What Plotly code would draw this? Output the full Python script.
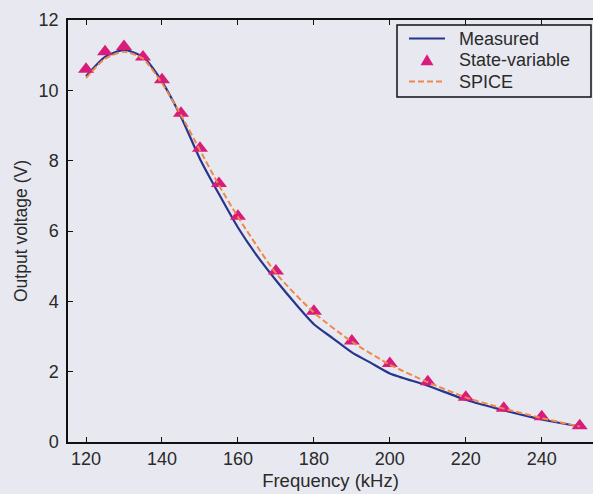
import plotly.graph_objects as go

# Frequency grid (kHz) and output voltages (V)
freq_meas = [120, 125, 130, 135, 140, 145, 150, 155, 160, 165, 170, 175, 180,
             185, 190, 195, 200, 210, 220, 230, 240, 250]
v_meas = [10.40, 10.95, 11.15, 10.95, 10.25, 9.25, 8.05, 7.05, 6.10, 5.30,
          4.60, 3.95, 3.35, 2.95, 2.55, 2.25, 1.95, 1.60, 1.20, 0.90, 0.64, 0.44]

freq_sv = [120, 125, 130, 135, 140, 145, 150, 155, 160, 170, 180, 190, 200,
           210, 220, 230, 240, 250]
v_state = [10.60, 11.10, 11.25, 10.95, 10.30, 9.35, 8.35, 7.35, 6.42, 4.86,
           3.72, 2.87, 2.23, 1.71, 1.27, 0.96, 0.72, 0.46]
v_spice = [10.35, 10.90, 11.10, 10.90, 10.20, 9.30, 8.30, 7.30, 6.40, 4.80,
           3.68, 2.85, 2.20, 1.70, 1.27, 0.95, 0.68, 0.44]

x_ticks = [120, 140, 160, 180, 200, 220, 240]
y_ticks = [0, 2, 4, 6, 8, 10, 12]
legend_names = ["Measured", "State-variable", "SPICE"]

BG = "#e8e8f0"
INK = "#2a2a2a"
C_MEAS = "#27358c"
C_SV = "#d91c7c"
C_SPICE = "#f0884a"
DASH = "6px,3px"
FONT = "Liberation Sans, Arial, sans-serif"

W, H = 593, 494
ML, MR, MT, MB = 68, 0, 20, 52
PW, PH = W - ML - MR, H - MT - MB


def px(x):
    """Horizontal page pixel -> paper fraction."""
    return (x - ML) / PW


def py(y):
    """Vertical page pixel (from top) -> paper fraction."""
    return (H - MB - y) / PH


fig = go.Figure()
fig.add_trace(go.Scatter(
    x=freq_meas, y=v_meas, name=legend_names[0], mode="lines",
    line=dict(color=C_MEAS, width=2.2, shape="spline", smoothing=0.6),
))
fig.add_trace(go.Scatter(
    x=freq_sv, y=v_state, name=legend_names[1], mode="markers",
    marker=dict(symbol="triangle-up", size=14, color=C_SV),
))
fig.add_trace(go.Scatter(
    x=freq_sv, y=v_spice, name=legend_names[2], mode="lines",
    line=dict(color=C_SPICE, width=2, dash=DASH, shape="spline", smoothing=0.6),
))

# Compact boxed legend
shapes = [dict(type="rect", xref="paper", yref="paper",
               x0=px(397), x1=px(591), y0=py(97), y1=py(25),
               line=dict(color="#111", width=1.5), fillcolor=BG, layer="above")]
rows = [38.5, 60, 81.5]
shapes.append(dict(type="line", xref="paper", yref="paper",
                   x0=px(409), x1=px(445), y0=py(rows[0]), y1=py(rows[0]),
                   line=dict(color=C_MEAS, width=2.2)))
cx, cy, r = 427, rows[1], 6.5
shapes.append(dict(type="path", xref="paper", yref="paper",
                   path=f"M {px(cx - r)},{py(cy + r * 0.8)} L {px(cx + r)},{py(cy + r * 0.8)} "
                        f"L {px(cx)},{py(cy - r * 0.9)} Z",
                   fillcolor=C_SV, line=dict(width=0)))
shapes.append(dict(type="line", xref="paper", yref="paper",
                   x0=px(409), x1=px(445), y0=py(rows[2]), y1=py(rows[2]),
                   line=dict(color=C_SPICE, width=2, dash=DASH)))

annotations = [dict(text=name, xref="paper", yref="paper",
                    x=px(457), y=py(ry), xanchor="left", yanchor="middle",
                    showarrow=False, font=dict(size=18, color=INK))
               for name, ry in zip(legend_names, rows)]

fig.update_layout(
    width=W, height=H,
    margin=dict(l=ML, r=MR, t=MT, b=MB),
    paper_bgcolor=BG, plot_bgcolor=BG,
    font=dict(family=FONT, size=18, color=INK),
    showlegend=False,
    shapes=shapes,
    annotations=annotations,
    xaxis=dict(
        range=[115.25, 253.5], tickvals=x_ticks,
        showline=True, linecolor="#111", linewidth=1.5, mirror="ticks",
        ticks="inside", ticklen=5, tickcolor="#111", tickwidth=1.2,
        showgrid=False, zeroline=False,
        title=dict(text="Frequency (kHz)", standoff=6, font=dict(size=18.5)),
    ),
    yaxis=dict(
        range=[0, 12], tickvals=y_ticks,
        showline=True, linecolor="#111", linewidth=1.5,
        ticks="inside", ticklen=5, tickcolor="#111", tickwidth=1.2,
        showgrid=False, zeroline=False, ticklabelstandoff=4,
        title=dict(text="Output voltage (V)", standoff=6, font=dict(size=17.5)),
    ),
)

fig.write_html("out.html")
